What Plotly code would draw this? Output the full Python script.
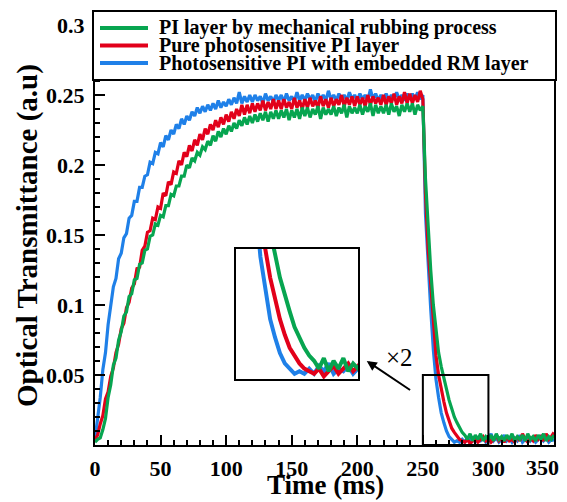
import plotly.graph_objects as go

# Time axis (ms), sampled every 2 ms
time_ms = list(range(0, 352, 2))

# Photosensitive PI with embedded RM layer (blue)
pi_rm = [
    0.004, 0.019, 0.034, 0.054, 0.066, 0.086, 0.098, 0.113, 0.119, 0.133,
    0.137, 0.148, 0.151, 0.162, 0.164, 0.174, 0.174, 0.184, 0.184, 0.192,
    0.193, 0.202, 0.201, 0.209, 0.208, 0.216, 0.213, 0.221, 0.218, 0.225,
    0.222, 0.229, 0.226, 0.233, 0.229, 0.235, 0.232, 0.238, 0.235, 0.241,
    0.237, 0.242, 0.238, 0.243, 0.239, 0.244, 0.240, 0.246, 0.241, 0.245,
    0.242, 0.247, 0.243, 0.248, 0.244, 0.252, 0.244, 0.249, 0.245, 0.250,
    0.245, 0.250, 0.246, 0.249, 0.244, 0.251, 0.246, 0.249, 0.245, 0.250,
    0.246, 0.250, 0.245, 0.251, 0.246, 0.249, 0.245, 0.252, 0.246, 0.250,
    0.246, 0.251, 0.247, 0.250, 0.245, 0.251, 0.247, 0.250, 0.246, 0.253,
    0.247, 0.250, 0.246, 0.251, 0.247, 0.250, 0.246, 0.252, 0.247, 0.250,
    0.246, 0.251, 0.247, 0.250, 0.246, 0.254, 0.247, 0.251, 0.246, 0.250,
    0.247, 0.251, 0.246, 0.250, 0.247, 0.252, 0.247, 0.250, 0.246, 0.251,
    0.247, 0.251, 0.247, 0.252, 0.247, 0.250, 0.165, 0.128, 0.097, 0.068,
    0.047, 0.034, 0.023, 0.016, 0.010, 0.006, 0.004, 0.002, 0.003, 0.002,
    0.004, 0.002, 0.005, 0.003, 0.006, 0.002, 0.004, 0.003, 0.005, 0.002,
    0.004, 0.008, 0.003, 0.005, 0.002, 0.004, 0.007, 0.003, 0.005, 0.002,
    0.005, 0.003, 0.007, 0.002, 0.004, 0.006, 0.003, 0.005, 0.002, 0.004,
    0.006, 0.003, 0.005, 0.002, 0.004, 0.003,
]

# Pure photosensitive PI layer (red)
pure_pi = [
    0.004, 0.007, 0.015, 0.021, 0.033, 0.038, 0.049, 0.055, 0.066, 0.072,
    0.083, 0.087, 0.098, 0.102, 0.112, 0.115, 0.126, 0.127, 0.139, 0.142,
    0.152, 0.153, 0.162, 0.161, 0.170, 0.169, 0.180, 0.178, 0.188, 0.186,
    0.195, 0.194, 0.203, 0.200, 0.209, 0.206, 0.214, 0.210, 0.218, 0.214,
    0.222, 0.218, 0.226, 0.222, 0.229, 0.225, 0.232, 0.227, 0.234, 0.229,
    0.236, 0.231, 0.238, 0.233, 0.240, 0.235, 0.243, 0.236, 0.243, 0.237,
    0.244, 0.238, 0.244, 0.239, 0.246, 0.239, 0.245, 0.240, 0.247, 0.240,
    0.246, 0.240, 0.247, 0.241, 0.245, 0.240, 0.248, 0.241, 0.246, 0.240,
    0.247, 0.241, 0.248, 0.242, 0.246, 0.241, 0.249, 0.242, 0.247, 0.241,
    0.248, 0.242, 0.247, 0.243, 0.250, 0.242, 0.248, 0.243, 0.249, 0.242,
    0.249, 0.243, 0.248, 0.242, 0.250, 0.243, 0.249, 0.244, 0.248, 0.243,
    0.250, 0.243, 0.249, 0.244, 0.251, 0.243, 0.249, 0.244, 0.252, 0.244,
    0.251, 0.244, 0.250, 0.245, 0.253, 0.247, 0.180, 0.140, 0.115, 0.087,
    0.064, 0.050, 0.039, 0.031, 0.023, 0.017, 0.012, 0.009, 0.006, 0.004,
    0.003, 0.002, 0.004, 0.001, 0.003, 0.005, 0.002, 0.004, 0.006, 0.003,
    0.005, 0.002, 0.004, 0.007, 0.003, 0.005, 0.002, 0.006, 0.003, 0.004,
    0.002, 0.006, 0.003, 0.008, 0.004, 0.002, 0.005, 0.003, 0.007, 0.004,
    0.006, 0.003, 0.008, 0.004, 0.006, 0.009,
]

# PI layer by mechanical rubbing process (green)
pi_rubbing = [
    0.002, 0.004, 0.005, 0.011, 0.019, 0.034, 0.043, 0.057, 0.062, 0.075,
    0.081, 0.092, 0.095, 0.106, 0.108, 0.118, 0.119, 0.129, 0.130, 0.139,
    0.140, 0.149, 0.150, 0.158, 0.157, 0.164, 0.163, 0.171, 0.171, 0.179,
    0.178, 0.185, 0.185, 0.192, 0.192, 0.200, 0.198, 0.205, 0.203, 0.209,
    0.207, 0.213, 0.211, 0.217, 0.214, 0.221, 0.217, 0.224, 0.220, 0.226,
    0.222, 0.228, 0.224, 0.230, 0.226, 0.232, 0.228, 0.234, 0.229, 0.235,
    0.230, 0.236, 0.231, 0.237, 0.232, 0.238, 0.231, 0.238, 0.233, 0.239,
    0.233, 0.239, 0.234, 0.240, 0.232, 0.239, 0.234, 0.240, 0.233, 0.241,
    0.235, 0.241, 0.234, 0.240, 0.236, 0.242, 0.233, 0.241, 0.236, 0.240,
    0.236, 0.242, 0.235, 0.241, 0.237, 0.243, 0.234, 0.242, 0.237, 0.241,
    0.237, 0.243, 0.236, 0.242, 0.238, 0.244, 0.235, 0.243, 0.237, 0.242,
    0.237, 0.243, 0.236, 0.244, 0.238, 0.242, 0.235, 0.243, 0.238, 0.244,
    0.238, 0.244, 0.236, 0.243, 0.239, 0.242, 0.190, 0.155, 0.125, 0.100,
    0.080, 0.066, 0.056, 0.048, 0.039, 0.032, 0.026, 0.020, 0.016, 0.012,
    0.009, 0.007, 0.004, 0.008, 0.003, 0.007, 0.004, 0.008, 0.003, 0.006,
    0.004, 0.007, 0.003, 0.008, 0.004, 0.006, 0.003, 0.007, 0.004, 0.008,
    0.003, 0.006, 0.004, 0.007, 0.003, 0.008, 0.004, 0.006, 0.003, 0.007,
    0.004, 0.008, 0.003, 0.006, 0.004, 0.007,
]

legend_labels = [
    "PI layer by mechanical rubbing process",
    "Pure photosensitive PI layer",
    "Photosensitive PI with embedded RM layer",
]
x_title = "Time (ms)"
y_title = "Optical Transmittance (a.u)"
x_ticks = [0, 50, 100, 150, 200, 250, 300, 350]
x_ticktext = ["0", "50", "100", "150", "200", "250", "300", ""]
last_x_label = "350"
y_ticks = [0, 0.05, 0.1, 0.15, 0.2, 0.25, 0.3]
y_ticktext = ["", "0.05", "0.1", "0.15", "0.2", "0.25", "0.3"]

GREEN = "#07a550"
RED = "#e2001a"
BLUE = "#1f80e8"
FONT = "Liberation Serif"
TICK_SIZE = 22

# draw order: blue, red, green (green on top)
draw = [(pi_rm, BLUE, legend_labels[2]),
        (pure_pi, RED, legend_labels[1]),
        (pi_rubbing, GREEN, legend_labels[0])]

fig = go.Figure()
for vals, col, name in draw:
    fig.add_trace(go.Scatter(x=time_ms, y=vals, mode="lines", name=name,
                             line=dict(color=col, width=3.2), showlegend=False))
for vals, col, name in draw:
    fig.add_trace(go.Scatter(x=time_ms, y=vals, mode="lines", name=name,
                             line=dict(color=col, width=4), showlegend=False,
                             xaxis="x2", yaxis="y2"))

# The page body has an 8 px margin; the figure is sized to fill the window.
OFF = 8
WIN_W, WIN_H = 567, 502
W, H = WIN_W - OFF, WIN_H - OFF
# plot area in window pixels
PL, PR, PT, PB = 95, 554, 25, 445
ml, mr, mt, mb = PL - OFF, WIN_W - PR, PT - OFF, WIN_H - PB
pw, ph = PR - PL, PB - PT


def px2paper_x(px):
    return (px - PL) / pw


def py2paper_y(py):
    return (PB - py) / ph


fig.update_layout(
    width=W, height=H,
    margin=dict(l=ml, r=mr, t=mt, b=mb),
    plot_bgcolor="white", paper_bgcolor="white",
    font=dict(family=FONT, color="black"),
    xaxis=dict(range=[0, 350], tickmode="array", tickvals=x_ticks,
               ticktext=x_ticktext, automargin=False,
               ticks="inside", ticklen=10, tickwidth=2, tickcolor="black",
               minor=dict(tickmode="linear", tick0=0, dtick=10, ticks="inside",
                          ticklen=5, tickwidth=1.5, tickcolor="black"),
               showline=True, linewidth=2, linecolor="black", mirror=True,
               showgrid=False, zeroline=False,
               tickfont=dict(size=TICK_SIZE, family=FONT, weight="bold"),
               ticklabelstandoff=3),
    yaxis=dict(range=[0, 0.3], tickmode="array", tickvals=y_ticks,
               ticktext=y_ticktext, automargin=False,
               ticks="inside", ticklen=10, tickwidth=2, tickcolor="black",
               minor=dict(tickmode="linear", tick0=0, dtick=0.01, ticks="inside",
                          ticklen=5, tickwidth=1.5, tickcolor="black"),
               showline=True, linewidth=2, linecolor="black", mirror=True,
               showgrid=False, zeroline=False,
               tickfont=dict(size=TICK_SIZE, family=FONT, weight="bold"),
               ticklabelstandoff=4),
    xaxis2=dict(domain=[px2paper_x(236), px2paper_x(358)], anchor="y2",
                range=[250, 300], showticklabels=False, ticks="",
                showline=True, linewidth=2, linecolor="black", mirror=True,
                showgrid=False, zeroline=False),
    yaxis2=dict(domain=[py2paper_y(379), py2paper_y(249)], anchor="x2",
                range=[0, 0.05], showticklabels=False, ticks="",
                showline=True, linewidth=2, linecolor="black", mirror=True,
                showgrid=False, zeroline=False),
)

shapes = []
# zoom source rectangle
shapes.append(dict(type="rect", xref="x", yref="y", x0=250, x1=300, y0=0, y1=0.05,
                   line=dict(color="black", width=2), fillcolor="rgba(0,0,0,0)"))
# legend box
shapes.append(dict(type="rect", xref="paper", yref="paper",
                   x0=px2paper_x(93), x1=px2paper_x(556),
                   y0=py2paper_y(80), y1=py2paper_y(11),
                   line=dict(color="black", width=2), fillcolor="white"))
legend_cols = [GREEN, RED, BLUE]
rows_py = [28, 45.5, 63]
annotations = []
for lab, col, py in zip(legend_labels, legend_cols, rows_py):
    shapes.append(dict(type="line", xref="paper", yref="paper",
                       x0=px2paper_x(100), x1=px2paper_x(148),
                       y0=py2paper_y(py), y1=py2paper_y(py),
                       line=dict(color=col, width=4)))
    annotations.append(dict(xref="paper", yref="paper", x=px2paper_x(157),
                            y=py2paper_y(py), xanchor="left", yanchor="middle",
                            text=lab, showarrow=False,
                            font=dict(size=20, family=FONT, weight="bold",
                                      color="black")))
# last x tick label (squeezed inside the figure edge, as in the original)
annotations.append(dict(xref="paper", yref="paper", x=px2paper_x(542),
                        y=py2paper_y(467), xanchor="center", yanchor="middle",
                        text=last_x_label, showarrow=False,
                        font=dict(size=TICK_SIZE, family=FONT, weight="bold",
                                  color="black")))
# axis titles
annotations.append(dict(xref="paper", yref="paper", x=px2paper_x(325),
                        y=py2paper_y(485), xanchor="center", yanchor="middle",
                        text=x_title, showarrow=False,
                        font=dict(size=27, family=FONT, weight="bold",
                                  color="black")))
annotations.append(dict(xref="paper", yref="paper", x=px2paper_x(27),
                        y=py2paper_y(236), xanchor="center", yanchor="middle",
                        text=y_title, showarrow=False, textangle=-90,
                        font=dict(size=29, family=FONT, weight="bold",
                                  color="black")))
# arrow and magnification label
annotations.append(dict(x=207.2, y=0.060, xref="x", yref="y",
                        ax=241.4, ay=0.0386, axref="x", ayref="y",
                        text="", showarrow=True, arrowhead=2, arrowsize=1,
                        arrowwidth=2, arrowcolor="black"))
annotations.append(dict(x=232, y=0.0625, xref="x", yref="y", text="×2",
                        showarrow=False,
                        font=dict(size=25, family=FONT, color="black")))

fig.update_layout(shapes=shapes, annotations=annotations)
fig.write_html("out.html")
